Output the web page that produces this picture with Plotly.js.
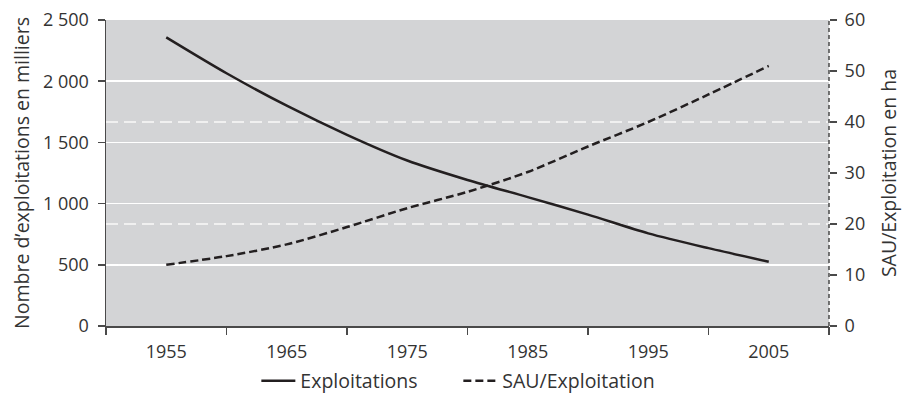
<!DOCTYPE html>
<html>
<head>
<meta charset="utf-8">
<script src="https://cdn.plot.ly/plotly-3.0.1.min.js"></script>
<style>html,body{margin:0;padding:0;background:#fff;}#chart{width:902px;height:401px;}</style>
</head>
<body>
<div id="chart"></div>
<script>
const years = [1955, 1960, 1965, 1970, 1975, 1980, 1985, 1990, 1995, 2000, 2005];
const exploitations = [2358, 2065, 1800, 1562, 1352, 1193, 1053, 910, 757, 636, 525];
const sauParExploitation = [12, 13.7, 16.0, 19.4, 23.1, 26.3, 30.2, 35.2, 40.0, 45.4, 51];
const seriesNames = ["Exploitations", "SAU/Exploitation"];
const xLabelVals = [1955, 1965, 1975, 1985, 1995, 2005];
const xTickVals = [1950, 1960, 1970, 1980, 1990, 2000, 2010];
const leftTickVals = [0, 500, 1000, 1500, 2000, 2500];
const leftTickText = ["0", "500", "1 000", "1 500", "2 000", "2 500"];
const rightTickVals = [0, 10, 20, 30, 40, 50, 60];
const rightGridVals = [20, 40];
const leftTitle = "Nombre d\u2019exploitations en milliers";
const rightTitle = "SAU/Exploitation en ha";

const FONT = "Open Sans, DejaVu Sans, sans-serif";
const INK = "#231f20";
const AXIS = "#4a4a4a";
const TXT = "#333333";

const data = [
  {x: [1950], y: [0], yaxis: "y3", xaxis: "x2", mode: "markers",
   marker: {opacity: 0}, showlegend: false, hoverinfo: "skip"},
  {x: years, y: exploitations, name: seriesNames[0], type: "scatter", mode: "lines",
   line: {color: INK, width: 2.5, shape: "spline", smoothing: 0.8}, yaxis: "y"},
  {x: years, y: sauParExploitation, name: seriesNames[1], type: "scatter", mode: "lines",
   line: {color: INK, width: 2.5, dash: "8px,4px", shape: "spline", smoothing: 0.8}, yaxis: "y2"}
];

const layout = {
  width: 902, height: 401,
  margin: {l: 106, r: 73, t: 20, b: 75, pad: 0, autoexpand: false},
  paper_bgcolor: "#ffffff",
  plot_bgcolor: "#d3d4d6",
  font: {family: FONT, size: 18, color: TXT},
  showlegend: true,
  legend: {orientation: "h", xref: "container", yref: "container", x: 0.2842, xanchor: "left",
           y: 0.05, yanchor: "middle", entrywidth: 153, entrywidthmode: "pixels",
           font: {family: FONT, size: 19.5, color: TXT}, itemwidth: 34, traceorder: "normal"},
  xaxis: {range: [1950, 2010], tickvals: xLabelVals, ticks: "", showgrid: false, zeroline: false,
          showline: true, linecolor: AXIS, linewidth: 2, tickfont: {size: 18, color: TXT},
          ticklabelstandoff: 8, fixedrange: true},
  xaxis2: {range: [1950, 2010], overlaying: "x", anchor: "y", side: "bottom", tickvals: xTickVals,
           showticklabels: false, ticks: "outside", ticklen: 8, tickwidth: 1.5, tickcolor: AXIS,
           showgrid: false, zeroline: false, showline: false},
  yaxis: {range: [0, 2500], tickvals: leftTickVals, ticktext: leftTickText, ticks: "outside",
          ticklen: 7, tickwidth: 1.5, tickcolor: AXIS, showline: true, linecolor: AXIS, linewidth: 1.5,
          showgrid: true, gridcolor: "#ffffff", gridwidth: 1.5, zeroline: false,
          tickfont: {size: 18, color: TXT}, ticklabelstandoff: 5,
          title: {text: leftTitle, font: {size: 19.5, color: TXT}, standoff: 8}},
  yaxis2: {range: [0, 60], overlaying: "y", side: "right", tickvals: rightTickVals, ticks: "outside",
           ticklen: 7, tickwidth: 1.5, tickcolor: AXIS, showline: false, showgrid: false, zeroline: false,
           tickfont: {size: 18, color: TXT}, ticklabelstandoff: 4,
           title: {text: rightTitle, font: {size: 19.5, color: TXT}, standoff: 18}},
  yaxis3: {range: [0, 60], overlaying: "y", side: "right", tickvals: rightGridVals, showticklabels: false,
           ticks: "", showgrid: true, gridcolor: "#f0f0f0", gridwidth: 2, griddash: "12px,6px",
           zeroline: false, showline: false},
  shapes: [
    {type: "line", xref: "paper", yref: "paper", x0: 1, x1: 1, y0: 0, y1: 1,
     line: {color: AXIS, width: 1.5, dash: "4px,3px"}, layer: "above"}
  ]
};

Plotly.newPlot("chart", data, layout, {staticPlot: true, displayModeBar: false});
</script>
</body>
</html>
